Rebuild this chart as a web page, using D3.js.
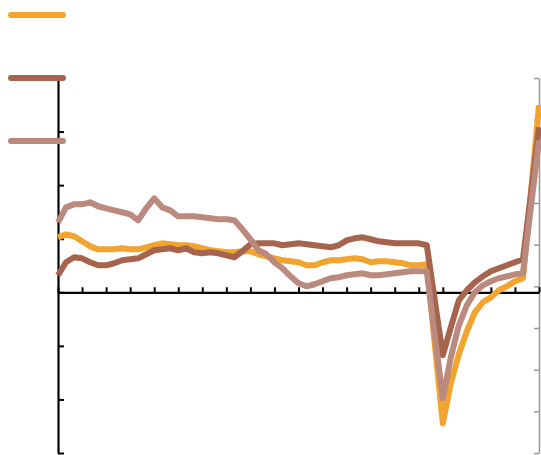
<!DOCTYPE html>
<html>
<head>
<meta charset="utf-8">
<script src="https://cdn.jsdelivr.net/npm/d3@7"></script>
<style>
  html, body { margin: 0; padding: 0; background: #fff; }
  svg { display: block; }
</style>
</head>
<body>
<svg id="chart" width="541" height="455"></svg>
<script>
// ---- data ----
const seriesNames = ["Series A", "Series B", "Series C"];
const seriesColors = ["#f2a42f", "#a6644d", "#b98a7d"];

const seriesA = [5.13,5.41,5.23,4.76,4.29,4.01,4.01,4.01,4.11,4.01,4.01,4.20,4.39,4.57,4.48,4.39,4.39,4.29,4.11,3.92,
  3.83,3.73,3.73,3.83,3.83,3.55,3.36,3.17,2.99,2.89,2.80,2.52,2.52,2.80,2.99,2.99,3.08,3.17,3.08,2.80,
  2.89,2.89,2.80,2.71,2.52,2.52,2.61,-4.85,-12.23,-8.49,-5.79,-3.64,-1.87,-0.93,-0.47,0.19,0.56,1.03,1.31,9.33,17.45];

const seriesB = [1.59,2.80,3.27,3.17,2.80,2.52,2.52,2.71,2.99,3.08,3.17,3.55,3.92,4.01,4.11,3.92,4.11,3.73,3.64,3.73,
  3.64,3.45,3.27,3.83,4.48,4.57,4.57,4.57,4.39,4.48,4.57,4.48,4.39,4.29,4.20,4.39,4.85,5.04,5.13,4.95,
  4.76,4.67,4.57,4.57,4.57,4.57,4.39,-0.75,-5.88,-3.27,-0.75,0.19,0.93,1.49,1.96,2.24,2.52,2.80,3.08,9.24,15.40];

const seriesC = [6.53,7.93,8.21,8.21,8.40,8.03,7.84,7.65,7.47,7.28,6.72,7.84,8.77,7.93,7.65,7.09,7.09,7.09,7.00,6.91,
  6.81,6.81,6.72,5.88,4.95,3.92,3.55,2.80,2.24,1.49,0.84,0.56,0.75,1.03,1.31,1.40,1.59,1.68,1.77,1.59,
  1.59,1.68,1.77,1.87,1.96,1.96,1.96,-4.01,-9.89,-6.07,-3.08,-1.21,0.00,0.65,1.03,1.31,1.49,1.68,1.77,8.03,14.19];

const leftTicks = [-15, -10, -5, 0, 5, 10, 15, 20];
const rightTicks = [-25, -20, -15, -10, -5, 0, 5, 10, 15, 20];
const xTickIndex = [0,3,6,9,12,15,18,21,24,27,30,33,36,39,42,45,48,51,54,57,60];

// ---- layout ----
const svg = d3.select("#chart");
const mLeft = 58, mRight = 539, mTop = 78, mBottom = 453;

const n = seriesA.length;
const x = d3.scaleLinear().domain([0, n - 1]).range([mLeft, mRight]);
const y = d3.scaleLinear().domain([-15, 20]).range([mBottom, mTop]);
const yR = d3.scaleLinear().domain([-25, 20]).range([mBottom, mTop]);

// left axis (black, ticks pointing inward)
const gL = svg.append("g").attr("transform", `translate(${mLeft},0)`)
  .call(d3.axisRight(y).tickValues(leftTicks).tickSize(6).tickSizeOuter(0).tickFormat(""));
gL.select(".domain").attr("stroke", "#000").attr("stroke-width", 2.2);
gL.selectAll(".tick line").attr("stroke", "#000").attr("stroke-width", 2);

// right axis (grey, ticks pointing inward)
const gR = svg.append("g").attr("transform", `translate(${mRight},0)`)
  .call(d3.axisLeft(yR).tickValues(rightTicks).tickSize(5).tickSizeOuter(0).tickFormat(""));
gR.select(".domain").attr("stroke", "#999").attr("stroke-width", 1.6);
gR.selectAll(".tick line").attr("stroke", "#999").attr("stroke-width", 1.5);

// x axis at zero (ticks pointing up)
const gX = svg.append("g").attr("transform", `translate(0,${y(0)})`)
  .call(d3.axisTop(x).tickValues(xTickIndex).tickSize(5).tickSizeOuter(0).tickFormat(""));
gX.select(".domain").attr("stroke", "#000").attr("stroke-width", 2.2);
gX.selectAll(".tick line").attr("stroke", "#000").attr("stroke-width", 2);

// lines
const line = d3.line().x((d, i) => x(i)).y(d => y(d));
[seriesA, seriesB, seriesC].forEach((s, k) => {
  svg.append("path").datum(s)
    .attr("d", line)
    .attr("fill", "none")
    .attr("stroke", seriesColors[k])
    .attr("stroke-width", 6)
    .attr("stroke-linejoin", "round")
    .attr("stroke-linecap", "butt");
});

// legend (line swatches, no labels)
const legendY = [15, 78, 141];
seriesNames.forEach((name, k) => {
  svg.append("line")
    .attr("x1", 11).attr("x2", 63)
    .attr("y1", legendY[k]).attr("y2", legendY[k])
    .attr("stroke", seriesColors[k])
    .attr("stroke-width", 6)
    .attr("stroke-linecap", "round");
});
</script>
</body>
</html>
